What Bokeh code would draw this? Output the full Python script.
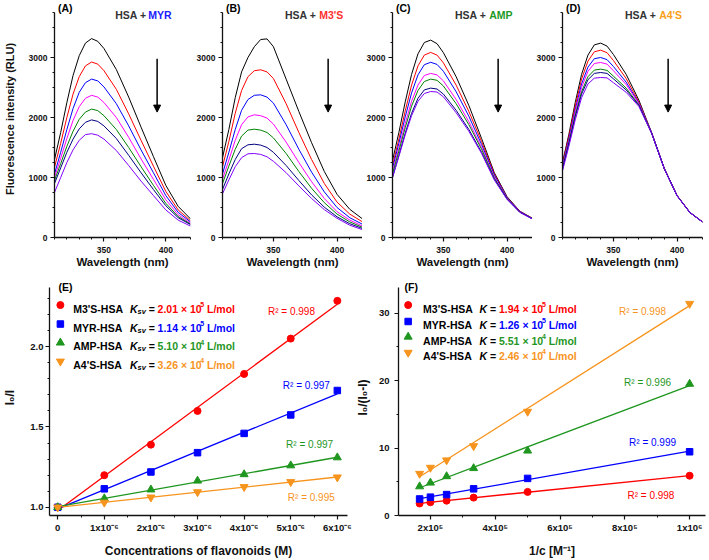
import math
import numpy as np
from bokeh.plotting import figure
from bokeh.layouts import row, column
from bokeh.models import Label, FixedTicker, Arrow, NormalHead, NumeralTickFormatter
from bokeh.embed import file_html
from bokeh.resources import INLINE

FONT = "Liberation Sans"

# ---------------- data: emission spectra (A-D) ----------------
wavelength = [310, 315, 320, 325, 330, 335, 340, 345, 350, 360, 370, 380, 390, 400, 410, 420]

spec_A = [
    [1300, 1750, 2250, 2700, 3030, 3240, 3315, 3270, 3150, 2800, 2340, 1840, 1350, 870, 520, 310],
    [1170, 1570, 2000, 2390, 2680, 2860, 2925, 2890, 2780, 2470, 2060, 1620, 1190, 770, 460, 280],
    [1060, 1420, 1800, 2150, 2420, 2580, 2640, 2610, 2510, 2230, 1860, 1460, 1080, 700, 420, 260],
    [1000, 1320, 1650, 1950, 2180, 2320, 2370, 2340, 2250, 2000, 1670, 1310, 970, 630, 380, 240],
    [950, 1230, 1520, 1770, 1970, 2090, 2140, 2115, 2030, 1800, 1500, 1180, 870, 570, 350, 225],
    [900, 1160, 1420, 1640, 1810, 1920, 1960, 1935, 1860, 1650, 1370, 1080, 800, 530, 330, 215],
    [750, 1000, 1250, 1460, 1620, 1715, 1730, 1705, 1640, 1450, 1200, 940, 700, 460, 290, 190],
]
spec_B = [
    [1330, 1800, 2330, 2760, 3000, 3180, 3300, 3310, 3180, 2640, 2100, 1580, 1100, 720, 470, 310],
    [1180, 1600, 2070, 2450, 2680, 2780, 2795, 2760, 2650, 2230, 1750, 1300, 900, 590, 390, 260],
    [1060, 1420, 1800, 2120, 2300, 2370, 2378, 2340, 2240, 1880, 1470, 1090, 760, 500, 330, 220],
    [970, 1290, 1620, 1880, 2010, 2045, 2030, 1990, 1890, 1590, 1250, 930, 650, 430, 290, 190],
    [900, 1190, 1470, 1690, 1790, 1805, 1790, 1750, 1660, 1400, 1100, 820, 580, 390, 260, 170],
    [800, 1060, 1300, 1480, 1545, 1555, 1540, 1500, 1420, 1200, 950, 710, 505, 345, 230, 150],
    [730, 960, 1180, 1330, 1395, 1400, 1385, 1345, 1270, 1080, 860, 650, 465, 320, 205, 130],
]
spec_C = [
    [1280, 1750, 2260, 2720, 3060, 3250, 3290, 3230, 3080, 2680, 2200, 1650, 1080, 680, 440, 320],
    [1200, 1640, 2110, 2540, 2860, 3040, 3085, 3040, 2910, 2540, 2100, 1600, 1060, 670, 435, 317],
    [1150, 1570, 2010, 2410, 2710, 2880, 2920, 2885, 2770, 2430, 2020, 1550, 1040, 665, 430, 315],
    [1100, 1490, 1900, 2270, 2540, 2700, 2735, 2710, 2610, 2300, 1930, 1500, 1010, 655, 428, 313],
    [1060, 1440, 1830, 2190, 2450, 2600, 2640, 2620, 2525, 2230, 1880, 1470, 990, 650, 425, 312],
    [1000, 1370, 1740, 2070, 2320, 2460, 2490, 2475, 2390, 2120, 1800, 1420, 970, 640, 422, 310],
    [1000, 1350, 1710, 2030, 2270, 2400, 2433, 2425, 2345, 2080, 1770, 1400, 960, 636, 420, 308],
]
spec_D = [
    [1250, 1720, 2250, 2720, 3040, 3210, 3240, 3190, 3050, 2720, 2290, 1750, 1150, 700, 420, 260],
    [1230, 1680, 2190, 2640, 2940, 3095, 3122, 3080, 2950, 2650, 2260, 1748, 1149, 700, 420, 260],
    [1200, 1640, 2130, 2560, 2840, 2980, 3000, 2965, 2850, 2590, 2240, 1746, 1148, 699, 420, 260],
    [1180, 1610, 2090, 2500, 2770, 2900, 2917, 2890, 2780, 2550, 2230, 1744, 1147, 698, 419, 259],
    [1160, 1580, 2040, 2430, 2680, 2790, 2806, 2785, 2690, 2490, 2210, 1742, 1146, 697, 418, 258],
    [1140, 1560, 2010, 2390, 2630, 2735, 2750, 2735, 2645, 2460, 2200, 1740, 1145, 696, 418, 258],
    [1110, 1520, 1960, 2330, 2560, 2655, 2667, 2660, 2580, 2420, 2185, 1738, 1144, 695, 417, 257],
]
curve_colors = ["#000000", "#FF0000", "#0000FF", "#FF00FF", "#008000", "#000080", "#8000FF"]

panel_letters = ["(A)", "(B)", "(C)", "(D)"]
ligand_names = ["MYR", "M3'S", "AMP", "A4'S"]
ligand_colors = ["#2020FF", "#FF3030", "#1E9A28", "#F7A020"]
spectra = [spec_A, spec_B, spec_C, spec_D]
arrow_wavelength = 393
arrow_from = 2980
arrow_to = 2090

# ---------------- data: Stern-Volmer (E) ----------------
conc_uM = [0, 1, 2, 3, 4, 5, 6]
e_m3s = [1.00, 1.20, 1.39, 1.60, 1.83, 2.05, 2.285]
e_myr = [1.00, 1.115, 1.22, 1.34, 1.46, 1.575, 1.727]
e_amp = [1.00, 1.055, 1.11, 1.165, 1.205, 1.26, 1.31]
e_a4s = [1.00, 1.03, 1.062, 1.095, 1.127, 1.158, 1.187]
e_ksv_mant = ["2.01", "1.14", "5.10", "3.26"]
e_ksv_exp = ["5", "5", "4", "4"]
e_r2 = ["0.998", "0.997", "0.997", "0.995"]

# ---------------- data: modified Stern-Volmer (F) ----------------
inv_c = [166667, 200000, 250000, 333333, 500000, 1000000]
f_m3s = [1.78, 1.97, 2.20, 2.65, 3.50, 5.90]
f_myr = [2.45, 2.72, 3.10, 3.95, 5.50, 9.45]
f_amp = [4.30, 4.85, 5.80, 7.00, 9.60, 19.50]
f_a4s = [6.20, 7.10, 8.20, 10.30, 15.40, 31.40]
f_k_mant = ["1.94", "1.26", "5.51", "2.46"]
f_k_exp = ["5", "5", "4", "4"]
f_r2 = ["0.998", "0.999", "0.996", "0.998"]

series_names = ["M3'S-HSA", "MYR-HSA", "AMP-HSA", "A4'S-HSA"]
series_colors = ["#FF0000", "#0000FF", "#1F961F", "#F7941D"]
series_markers = ["circle", "square", "triangle", "inverted_triangle"]
series_sizes = [7, 6.5, 8, 8]

# ---------------- helpers ----------------
BW = {" ": 278, "'": 238, "(": 333, ")": 333, "+": 584, "-": 333, ".": 278, "/": 278,
      "=": 584, "\u00d7": 584, "A": 722, "H": 722, "K": 722, "L": 611, "M": 833, "P": 667,
      "R": 722, "S": 667, "Y": 667, "l": 278, "m": 889, "o": 611, "s": 556, "v": 556}


def twidth(txt, size):
    return sum(BW.get(c, 556) for c in txt) * size / 1000.0


def make_fig(w, h, bl, br, bt, bb, xr, yr):
    p = figure(width=w, height=h, x_range=xr, y_range=yr, output_backend="svg",
               toolbar_location=None, min_border_left=bl, min_border_right=br,
               min_border_top=bt, min_border_bottom=bb)
    p.grid.visible = False
    p.outline_line_color = None
    p.background_fill_color = "white"
    p.border_fill_color = "white"
    for ax in (p.xaxis[0], p.yaxis[0]):
        ax.axis_line_width = 1.3
        ax.axis_line_color = "#111111"
        ax.major_tick_in = 0
        ax.major_tick_out = 4
        ax.minor_tick_in = 0
        ax.minor_tick_out = 2
        ax.major_tick_line_width = 1.2
        ax.minor_tick_line_width = 1.0
        ax.major_tick_line_color = "#111111"
        ax.minor_tick_line_color = "#111111"
        ax.major_label_text_font = FONT
        ax.major_label_text_font_style = "bold"
        ax.major_label_text_color = "#111111"
        ax.axis_label_text_font = FONT
        ax.axis_label_text_font_style = "bold"
        ax.axis_label_text_color = "#111111"
    fr = dict(x0=xr[0], x1=xr[1], y0=yr[0], y1=yr[1], w=w - bl - br, h=h - bt - bb)
    return p, fr


def px2data(fr, dx, dy):
    return (fr["x0"] + dx * (fr["x1"] - fr["x0"]) / fr["w"],
            fr["y1"] - dy * (fr["y1"] - fr["y0"]) / fr["h"])


def lab(p, fr, dx, dy, text, size, style="bold", color="black", align="left",
        baseline="middle", angle=0.0):
    X, Y = px2data(fr, dx, dy)
    p.add_layout(Label(x=X, y=Y, text=text, text_font=FONT, text_font_size=f"{size}px",
                       text_font_style=style, text_color=color, text_align=align,
                       text_baseline=baseline, angle=angle))


def rich(p, fr, dx, dy_center, main_size, pieces):
    x = dx
    base = dy_center + 0.36 * main_size
    for txt, size, style, color, rise, kern in pieces:
        core = txt.strip(" ")
        lead = len(txt) - len(txt.lstrip(" "))
        trail = len(txt) - len(txt.rstrip(" "))
        x += twidth(" " * lead, size) + kern
        lab(p, fr, x, base - rise, core, size, style, color, baseline="alphabetic")
        x += twidth(core, size) + twidth(" " * trail, size)


# ---------------- top row: spectra ----------------
# (width, left border, right border)
top_specs = [(192, 50, 2), (170, 30, 0), (170, 30, 0), (177, 30, 7)]
TOP_H, TOP_BB = 272, 35
top_frame_h = TOP_H - TOP_BB
top_y_end = 3750 * top_frame_h / 225.0
top_figs = []
for i, (w, bl, br) in enumerate(top_specs):
    p, fr = make_fig(w, TOP_H, bl, br, 0, TOP_BB, (310, 420), (0, top_y_end))
    for ys, col in zip(spectra[i], curve_colors):
        p.line(wavelength, ys, line_color=col, line_width=1.0)
    p.yaxis.bounds = (0, 3750)
    p.xaxis.ticker = FixedTicker(ticks=[350, 400],
                                 minor_ticks=[310, 320, 330, 340, 360, 370, 380, 390, 410, 420])
    p.yaxis.ticker = FixedTicker(ticks=[0, 1000, 2000, 3000],
                                 minor_ticks=[250, 500, 750, 1250, 1500, 1750, 2250, 2500, 2750,
                                              3250, 3500, 3750])
    p.xaxis.major_label_text_font_size = "8.5px"
    p.yaxis.major_label_text_font_size = "8.5px"
    p.xaxis.major_label_standoff = 5
    p.yaxis.major_label_standoff = 3
    p.xaxis.axis_label = "Wavelength (nm)"
    p.xaxis.axis_label_text_font_size = "11.5px"
    p.xaxis.axis_label_standoff = 0
    if i == 0:
        p.yaxis.axis_label = "Fluorescence intensity (RLU)"
        p.yaxis.axis_label_text_font_size = "11px"
        p.yaxis.axis_label_standoff = 10
    p.add_layout(Arrow(end=NormalHead(size=7, fill_color="black", line_color="black"),
                       x_start=arrow_wavelength, y_start=arrow_from,
                       x_end=arrow_wavelength, y_end=arrow_to,
                       line_width=1.5, line_color="black"))
    lab(p, fr, 3.5, 7.2, panel_letters[i], 10.5)
    rich(p, fr, 62.5, 10.3, 10.5, [("HSA + ", 10.5, "bold", "#333333", 0, 0),
                                   (ligand_names[i], 10.5, "bold", ligand_colors[i], 0, 0)])
    top_figs.append(p)

# ---------------- bottom row geometry ----------------
BOT_H, BOT_BT, BOT_BB = 288, 7, 41
bot_frame_h = BOT_H - BOT_BT - BOT_BB

# ---------------- bottom left: E ----------------
e_y_end = 1.0 + (bot_frame_h - 8.3) / 163.4
pE, frE = make_fig(352, BOT_H, 46, 5, BOT_BT, BOT_BB, (-0.176, 6.218), (0.949, e_y_end))
e_series = [e_m3s, e_myr, e_amp, e_a4s]
for ys, col in zip(e_series, series_colors):
    k, b = np.polyfit(conc_uM, ys, 1)
    xs = [min(conc_uM), max(conc_uM)]
    pE.line(xs, [k * x + b for x in xs], line_color=col, line_width=1.3)
for ys, col, mk, sz in zip(e_series, series_colors, series_markers, series_sizes):
    pE.scatter(conc_uM, ys, marker=mk, size=sz, fill_color=col, line_color=col)
pE.yaxis.bounds = (0.949, 2.369)
pE.xaxis.ticker = FixedTicker(ticks=[0, 1, 2, 3, 4, 5, 6],
                              minor_ticks=[0.5, 1.5, 2.5, 3.5, 4.5, 5.5])
pE.xaxis.major_label_overrides = {0: "0", 1: "1x10\u207b\u2076", 2: "2x10\u207b\u2076",
                                  3: "3x10\u207b\u2076", 4: "4x10\u207b\u2076",
                                  5: "5x10\u207b\u2076", 6: "6x10\u207b\u2076"}
pE.yaxis.ticker = FixedTicker(ticks=[1.0, 1.5, 2.0],
                              minor_ticks=[1.1, 1.2, 1.3, 1.4, 1.6, 1.7, 1.8, 1.9, 2.1, 2.2, 2.3])
pE.yaxis.formatter = NumeralTickFormatter(format="0.0")
pE.xaxis.major_label_text_font_size = "9.5px"
pE.yaxis.major_label_text_font_size = "9.5px"
pE.xaxis.major_label_standoff = 2
pE.yaxis.major_label_standoff = 2
pE.yaxis.axis_label = "I\u2080/I"
pE.yaxis.axis_label_text_font_size = "12px"
pE.yaxis.axis_label_standoff = 10
pE.xaxis.axis_label = "Concentrations of flavonoids (M)"
pE.xaxis.axis_label_text_font_size = "12px"
pE.xaxis.axis_label_standoff = 8
lab(pE, frE, 9, 8, "(E)", 10.5)
e_rows = [26.0, 45.3, 64.3, 83.3]
for i in range(4):
    mx, my = px2data(frE, 11, e_rows[i])
    pE.scatter([mx], [my], marker=series_markers[i], size=series_sizes[i],
               fill_color=series_colors[i], line_color=series_colors[i])
    rich(pE, frE, 24, e_rows[i], 10.5, [(series_names[i], 10.5, "bold", "black", 0, 0)])
    rich(pE, frE, 81.3, e_rows[i], 10.5, [
        ("K", 10.5, "bold italic", "black", 0, 0),
        ("sv", 7.5, "bold italic", "black", -2.5, 0),
        (" = ", 10.5, "bold", "black", 0, 0),
        (e_ksv_mant[i] + " \u00d7 10", 10.5, "bold", series_colors[i], 0, 0),
        (e_ksv_exp[i], 7, "bold", series_colors[i], 4.5, -1.0),
        (" L/mol", 10.5, "bold", series_colors[i], 0, 0)])
e_r2_pos = [(220.7, 32.7), (235.7, 107.7), (239.0, 167.7), (240.7, 222.0)]
for i in range(4):
    lab(pE, frE, e_r2_pos[i][0], e_r2_pos[i][1], "R\u00b2 = " + e_r2[i], 10,
        style="normal", color=series_colors[i])

# ---------------- bottom right: F ----------------
f_y_end = bot_frame_h / 6.86
pF, frF = make_fig(357, BOT_H, 45, 4, BOT_BT, BOT_BB, (101500, 1049000), (0, f_y_end))
f_series = [f_m3s, f_myr, f_amp, f_a4s]
for ys, col in zip(f_series, series_colors):
    k, b = np.polyfit(inv_c, ys, 1)
    xs = [min(inv_c), max(inv_c)]
    pF.line(xs, [k * x + b for x in xs], line_color=col, line_width=1.3)
for ys, col, mk, sz in zip(f_series, series_colors, series_markers, series_sizes):
    pF.scatter(inv_c, ys, marker=mk, size=sz, fill_color=col, line_color=col)
pF.yaxis.bounds = (0, 33.8)
pF.xaxis.ticker = FixedTicker(ticks=[200000, 400000, 600000, 800000, 1000000],
                              minor_ticks=[300000, 500000, 700000, 900000])
pF.xaxis.major_label_overrides = {200000: "2x10\u2075", 400000: "4x10\u2075",
                                  600000: "6x10\u2075", 800000: "8x10\u2075",
                                  1000000: "1x10\u2076"}
pF.yaxis.ticker = FixedTicker(ticks=[0, 10, 20, 30], minor_ticks=[5, 15, 25])
pF.xaxis.major_label_text_font_size = "9.5px"
pF.yaxis.major_label_text_font_size = "9.5px"
pF.xaxis.major_label_standoff = 2
pF.yaxis.major_label_standoff = 5
pF.yaxis.axis_label = "I\u2080/(I\u2080-I)"
pF.yaxis.axis_label_text_font_size = "12px"
pF.yaxis.axis_label_standoff = 6
pF.xaxis.axis_label = "1/c [M\u207b\u00b9]"
pF.xaxis.axis_label_text_font_size = "12px"
pF.xaxis.axis_label_standoff = 8
lab(pF, frF, 6, 8, "(F)", 10.5)
f_rows = [26.0, 42.7, 58.3, 74.3]
for i in range(4):
    mx, my = px2data(frF, 9.7, f_rows[i])
    pF.scatter([mx], [my], marker=series_markers[i], size=series_sizes[i],
               fill_color=series_colors[i], line_color=series_colors[i])
    rich(pF, frF, 24.7, f_rows[i], 10.5, [(series_names[i], 10.5, "bold", "black", 0, 0)])
    rich(pF, frF, 81.3, f_rows[i], 10.5, [
        ("K", 10.5, "bold italic", "black", 0, 0),
        (" = ", 10.5, "bold", "black", 0, 0),
        (f_k_mant[i] + " \u00d7 10", 10.5, "bold", series_colors[i], 0, 0),
        (f_k_exp[i], 7, "bold", series_colors[i], 4.5, -1.0),
        (" L/mol", 10.5, "bold", series_colors[i], 0, 0)])
f_r2_pos = [(229.7, 219.3), (231.3, 165.3), (226.3, 104.3), (221.3, 32.7)]
for i in range(4):
    lab(pF, frF, f_r2_pos[i][0], f_r2_pos[i][1], "R\u00b2 = " + f_r2[i], 10,
        style="normal", color=series_colors[i])

layout = column(row(*top_figs), row(pE, pF))
open("out.html", "w").write(file_html(layout, INLINE))
